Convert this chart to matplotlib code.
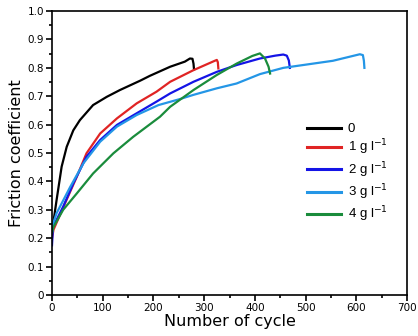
import matplotlib
matplotlib.use("Agg")
import matplotlib.pyplot as plt
from matplotlib.ticker import MultipleLocator

# friction coefficient vs. cycle number for each additive concentration
cyc_0 = [0, 3, 9, 19, 29, 42, 55, 81, 108, 134, 174, 193, 233, 262, 272, 277, 279, 280]
mu_0 = [0.215, 0.26, 0.334, 0.452, 0.522, 0.58, 0.616, 0.669, 0.698, 0.722,
        0.755, 0.772, 0.804, 0.822, 0.833, 0.832, 0.815, 0.795]

cyc_1 = [0, 3, 20, 49, 68, 95, 128, 167, 206, 233, 279, 321, 325, 327, 328]
mu_1 = [0.20, 0.23, 0.30, 0.417, 0.499, 0.569, 0.622, 0.675, 0.716, 0.751,
        0.792, 0.825, 0.828, 0.82, 0.798]

cyc_2 = [0, 2, 22, 42, 68, 95, 128, 167, 206, 233, 279, 325, 364, 410, 440,
         456, 463, 467, 469]
mu_2 = [0.175, 0.24, 0.311, 0.393, 0.487, 0.546, 0.599, 0.64, 0.681, 0.71,
        0.751, 0.786, 0.81, 0.833, 0.843, 0.847, 0.843, 0.826, 0.80]

cyc_3 = [0, 2, 9, 36, 62, 95, 128, 167, 210, 252, 279, 325, 364, 410, 456,
         554, 607, 613, 615, 616]
mu_3 = [0.22, 0.25, 0.288, 0.381, 0.464, 0.54, 0.593, 0.634, 0.669, 0.69,
        0.705, 0.728, 0.745, 0.778, 0.80, 0.825, 0.848, 0.845, 0.825, 0.80]

cyc_4 = [0, 3, 22, 49, 81, 121, 160, 213, 233, 279, 325, 364, 395, 410,
         420, 427, 430]
mu_4 = [0.22, 0.24, 0.30, 0.358, 0.428, 0.499, 0.557, 0.628, 0.663, 0.722,
        0.775, 0.815, 0.842, 0.851, 0.833, 0.804, 0.78]

labels = ["0", "1 g l$^{-1}$", "2 g l$^{-1}$", "3 g l$^{-1}$", "4 g l$^{-1}$"]
colors = ["#000000", "#e02424", "#1414e6", "#2496e6", "#1a8c3c"]

fig = plt.figure(figsize=(4.18, 3.36), dpi=100)
ax = fig.add_axes([0.1244, 0.122, 0.8493, 0.845])

series = [(cyc_0, mu_0), (cyc_1, mu_1), (cyc_2, mu_2), (cyc_3, mu_3), (cyc_4, mu_4)]
for (x, y), lab, c in zip(series, labels, colors):
    ax.plot(x, y, color=c, lw=1.6, label=lab, solid_joinstyle="round")

ax.set_xlim(0, 700)
ax.set_ylim(0, 1.0)
ax.xaxis.set_major_locator(MultipleLocator(100))
ax.xaxis.set_minor_locator(MultipleLocator(50))
ax.yaxis.set_minor_locator(MultipleLocator(0.05))
ax.set_yticks([0, 0.1, 0.2, 0.3, 0.4, 0.5, 0.6, 0.7, 0.8, 0.9, 1.0])
ax.set_yticklabels(["0", "0.1", "0.2", "0.3", "0.4", "0.5", "0.6", "0.7", "0.8", "0.9", "1.0"])
ax.tick_params(which="both", direction="out", top=False, right=False,
               labelsize=7.5, width=1.2, pad=1.5)
ax.tick_params(which="major", length=4)
ax.tick_params(which="minor", length=2.5)
for s in ax.spines.values():
    s.set_linewidth(1.2)

ax.set_xlabel("Number of cycle", fontsize=11.5, labelpad=1)
ax.set_ylabel("Friction coefficient", fontsize=11.5, labelpad=3)

leg = ax.legend(loc="upper left", bbox_to_anchor=(0.684, 0.648), frameon=False,
                handlelength=2.6, handletextpad=0.5, labelspacing=0.2,
                prop={"family": "Liberation Sans", "size": 9.5})
for h in leg.get_lines():
    h.set_linewidth(2.2)

fig.savefig("out.png", dpi=100)
